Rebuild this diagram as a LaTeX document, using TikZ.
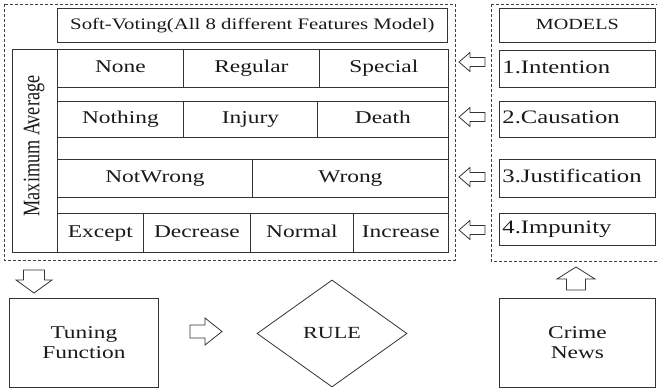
\documentclass[tikz,border=0pt]{standalone}
\usepackage{graphicx}
\usepackage{fontspec}
\setmainfont{Liberation Serif}[FakeStretch=1.3]
\newfontfamily\plainserif{Liberation Serif}
\usetikzlibrary{shapes.geometric}

\tikzset{
	boxline/.style={draw=black!80, line width=0.8pt},
	boxcell/.style={boxline, anchor=north west, inner sep=0pt, text=black!90,
		font=\fontsize{18}{20}\selectfont},
	cell/.style={boxcell, text height=12.5pt, text depth=4pt},
	modelcell/.style={cell, text width=150pt, align=left, inner xsep=3pt,
		font=\fontsize{19}{21}\selectfont},
	groupbox/.style={draw=black!75, line width=0.7pt, dash pattern=on 3pt off 2pt},
	pics/blockarrow/.style n args={4}{code={
		\draw[boxline, line join=miter] (0,0) -- (#2,#3) -- (#2,#4) -- (#1,#4)
			-- (#1,-#4) -- (#2,-#4) -- (#2,-#3) -- cycle;
	}},
}

\begin{document}
\begin{tikzpicture}[x=1pt, y=-1pt]

	\useasboundingbox (0,0) rectangle (657,390);
	\clip (0,0) rectangle (657,390);

	% Dashed groups
	\draw[groupbox] (4,4) rectangle (455,260);
	\draw[groupbox] (491,4) rectangle (668,261);

	% Soft voting header
	\node[cell, minimum width=390pt, minimum height=34pt,
		font=\fontsize{16}{18}\selectfont] (softvote) at (57,8)
		{Soft-Voting(All 8 different Features Model)};

	% Feature block
	\node[boxcell, minimum width=436pt, minimum height=203pt] (featblock) at (12,49) {};
	\draw[boxline] (57,49) -- (57,252);
	\node[rotate=90, font=\plainserif\fontsize{18.2}{20}\selectfont, text=black!90]
		(maxavg) at (34,146) {\scalebox{1}[1.3]{Maximum Average}};

	% Row 1
	\node[cell, minimum width=126pt, minimum height=38pt] (none) at (57,49) {None};
	\node[cell, minimum width=136pt, minimum height=38pt] (regular) at (183,49) {Regular};
	\node[cell, minimum width=129pt, minimum height=38pt] (special) at (319,49) {Special};

	% Row 2
	\node[cell, minimum width=126pt, minimum height=36pt] (nothing) at (57,101) {Nothing};
	\node[cell, minimum width=134pt, minimum height=36pt] (injury) at (183,101) {Injury};
	\node[cell, minimum width=131pt, minimum height=36pt] (death) at (317,101) {Death};

	% Row 3
	\node[cell, minimum width=195pt, minimum height=38pt] (notwrong) at (57,159) {NotWrong};
	\node[cell, minimum width=196pt, minimum height=38pt] (wrong) at (252,159) {Wrong};

	% Row 4
	\node[cell, minimum width=86pt, minimum height=39pt] (except) at (57,213) {Except};
	\node[cell, minimum width=107pt, minimum height=39pt] (decrease) at (143,213) {Decrease};
	\node[cell, minimum width=103pt, minimum height=39pt] (normal) at (250,213) {Normal};
	\node[cell, minimum width=95pt, minimum height=39pt] (increase) at (353,213) {Increase};

	% Models
	\node[cell, minimum width=156pt, minimum height=34pt,
		font=\fontsize{15.5}{17}\selectfont] (models) at (499,8) {MODELS};
	\node[modelcell, minimum height=37pt] (intention) at (499,50) {1.Intention};
	\node[modelcell, minimum height=36pt] (causation) at (499,101) {2.Causation};
	\node[modelcell, minimum height=38pt] (justification) at (499,159) {3.Justification};
	\node[modelcell, minimum height=32pt] (impunity) at (499,213) {4.Impunity};

	% Hollow arrows between groups
	\foreach \ay in {62,117,177,230}
		\pic at (459,\ay) {blockarrow={26}{11}{9.5}{4.5}};

	% Bottom row
	\pic[rotate=90] at (34,293) {blockarrow={23}{13}{18}{10.5}};
	\node[boxcell, minimum width=149pt, minimum height=89pt, align=center]
		(tuning) at (9,298) {Tuning\\Function};
	\pic[rotate=180] at (222,331.5) {blockarrow={32}{17}{13.5}{6.5}};
	\node[boxline, diamond, aspect=1.4, minimum width=150pt, minimum height=107pt,
		inner sep=0pt, text=black!90, font=\fontsize{17}{19}\selectfont]
		(rule) at (332,333.5) {RULE};
	\pic[rotate=-90] at (576,267) {blockarrow={23}{12}{19}{9.5}};
	\node[boxcell, minimum width=156pt, minimum height=89pt, align=center]
		(crimenews) at (499,298) {Crime\\News};

\end{tikzpicture}
\end{document}
